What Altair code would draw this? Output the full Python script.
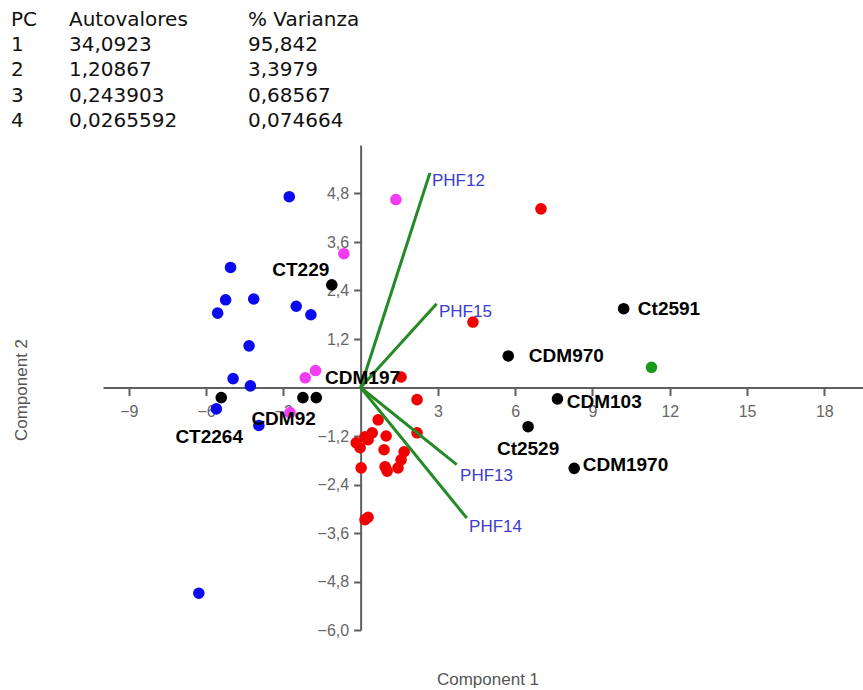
import altair as alt
import pandas as pd

# ---------------- data ----------------
table_headers = ["PC", "Autovalores", "% Varianza"]
pc = ["1", "2", "3", "4"]
autovalores = ["34,0923", "1,20867", "0,243903", "0,0265592"]
varianza = ["95,842", "3,3979", "0,68567", "0,074664"]

blue_x = [-2.77, -5.05, -5.24, -4.15, -5.55, -2.50, -1.93, -4.33, -4.95, -4.28, -5.60, -3.95, -6.28]
blue_y = [4.72, 2.97, 2.17, 2.19, 1.84, 2.01, 1.80, 1.03, 0.22, 0.04, -0.53, -0.94, -5.09]

magenta_x = [1.37, -0.65, -2.15, -1.75, -2.74]
magenta_y = [4.65, 3.31, 0.24, 0.42, -0.62]

red_x = [7.00, 4.36, 1.57, 2.19, 0.68, 2.19, 0.17, 0.45, -0.17, -0.02, 0.29, 0.99,
         0.91, 1.69, 1.57, 1.45, 0.95, 1.03, 0.02, 0.29, 0.17]
red_y = [4.42, 1.62, 0.26, -0.30, -0.80, -1.12, -1.22, -1.12, -1.37, -1.49, -1.29, -1.20,
         -1.54, -1.59, -1.79, -1.99, -1.96, -2.07, -1.99, -3.21, -3.27]

green_x = [11.29]
green_y = [0.50]

black_names = ["CT229", "CT2264", "CDM92", "CDM197", "Ct2591", "CDM970", "CDM103", "Ct2529", "CDM1970"]
black_x = [-1.12, -5.41, -2.24, -1.72, 10.21, 5.73, 7.64, 6.50, 8.29]
black_y = [2.54, -0.25, -0.25, -0.25, 1.95, 0.78, -0.28, -0.97, -2.00]
black_label_x = [-3.43, -7.19, -4.24, -1.38, 10.76, 6.53, 8.00, 5.29, 8.62]
black_label_y = [2.91, -1.22, -0.77, 0.24, 1.94, 0.78, -0.35, -1.52, -1.91]

vec_names = ["PHF12", "PHF15", "PHF13", "PHF14"]
vec_x = [2.69, 2.95, 3.73, 4.12]
vec_y = [5.31, 2.07, -1.91, -3.23]
vec_label_x = [2.77, 3.04, 3.86, 4.21]
vec_label_y = [5.12, 1.87, -2.18, -3.46]

x_ticks = [-9, -6, -3, 3, 6, 9, 12, 15, 18]
y_ticks = [-6.0, -4.8, -3.6, -2.4, -1.2, 1.2, 2.4, 3.6, 4.8]

groups = ["blue", "magenta", "red", "green", "black"]
group_colors = ["#0a0af0", "#f23cf2", "#f00000", "#1a9a1a", "#000000"]
group_sizes = [135, 135, 135, 135, 115]

# ---------------- layout ----------------
W, H = 760, 485
X_DOMAIN = [-10, 19.5]
Y_DOMAIN = [-6, 6]
PAD_L, PAD_T = 103, 145
PAD_R, PAD_B = 863 - PAD_L - W, 690 - PAD_T - H
x0_px = (0 - X_DOMAIN[0]) / (X_DOMAIN[1] - X_DOMAIN[0]) * W
y0_px = (Y_DOMAIN[1] - 0) / (Y_DOMAIN[1] - Y_DOMAIN[0]) * H

FONT = "Liberation Sans"
TABLE_FONT = "DejaVu Sans"
AXIS_COLOR = "#5f5f5f"

pts = pd.concat([
    pd.DataFrame({"x": blue_x, "y": blue_y, "group": "blue"}),
    pd.DataFrame({"x": magenta_x, "y": magenta_y, "group": "magenta"}),
    pd.DataFrame({"x": red_x, "y": red_y, "group": "red"}),
    pd.DataFrame({"x": green_x, "y": green_y, "group": "green"}),
    pd.DataFrame({"x": black_x, "y": black_y, "group": "black"}),
], ignore_index=True)

vec_df = pd.DataFrame({"name": vec_names, "vx": vec_x, "vy": vec_y,
                       "lx": vec_label_x, "ly": vec_label_y})
lab_df = pd.DataFrame({"name": black_names, "lx": black_label_x, "ly": black_label_y})

x_scale = alt.Scale(domain=X_DOMAIN, nice=False, zero=False)
y_scale = alt.Scale(domain=Y_DOMAIN, nice=False, zero=False)

x_axis = alt.Axis(
    title=None, values=x_ticks, format="d", grid=False,
    offset=-(H - y0_px), domainColor=AXIS_COLOR, domainWidth=2,
    tickColor=AXIS_COLOR, tickWidth=2, tickSize=8,
    labelColor="#666666", labelFontSize=16, labelFont=FONT, labelPadding=8,
    labelFlush=False, labelOverlap=False,
)
y_axis = alt.Axis(
    title=None, values=y_ticks, grid=False,
    labelExpr="replace(format(datum.value, '.1f'), '.', ',')",
    offset=-x0_px, domainColor=AXIS_COLOR, domainWidth=2,
    tickColor=AXIS_COLOR, tickWidth=2, tickSize=7,
    labelColor="#666666", labelFontSize=16, labelFont=FONT, labelPadding=5,
    labelFlush=False, labelOverlap=False,
)

points = alt.Chart(pts).mark_circle(opacity=1).encode(
    x=alt.X("x:Q", scale=x_scale, axis=x_axis),
    y=alt.Y("y:Q", scale=y_scale, axis=y_axis),
    color=alt.Color("group:N", scale=alt.Scale(domain=groups, range=group_colors), legend=None),
    size=alt.Size("group:N", scale=alt.Scale(domain=groups, range=group_sizes), legend=None),
)

vectors = alt.Chart(vec_df).mark_rule(color="#258a25", strokeWidth=3).encode(
    x="vx:Q", y="vy:Q", x2=alt.datum(0), y2=alt.datum(0)
)

vec_labels = alt.Chart(vec_df).mark_text(
    align="left", baseline="middle", font=FONT, fontSize=17, color="#3c3cd0"
).encode(x="lx:Q", y="ly:Q", text="name:N")

sample_labels = alt.Chart(lab_df).mark_text(
    align="left", baseline="middle", font=FONT, fontSize=19, fontWeight="bold", color="#000000"
).encode(x="lx:Q", y="ly:Q", text="name:N")

one = pd.DataFrame({"k": [0]})
table_cols = [
    ([table_headers[0]] + pc, 11),
    ([table_headers[1]] + autovalores, 69),
    ([table_headers[2]] + varianza, 248),
]
table_layers = [
    alt.Chart(one).mark_text(
        align="left", baseline="alphabetic", font=TABLE_FONT, fontSize=20, lineHeight=25.2,
        color="#111111", text=lines,
    ).encode(x=alt.value(px - PAD_L), y=alt.value(26 - PAD_T))
    for lines, px in table_cols
]

title_x = alt.Chart(one).mark_text(
    align="center", baseline="alphabetic", font=FONT, fontSize=17, color="#555555",
    text="Component 1",
).encode(x=alt.value(488 - PAD_L), y=alt.value(685 - PAD_T))

title_y = alt.Chart(one).mark_text(
    align="center", baseline="middle", font=FONT, fontSize=17, color="#555555",
    angle=270, text="Component 2",
).encode(x=alt.value(22 - PAD_L), y=alt.value(390 - PAD_T))

chart = alt.layer(
    points, vectors, vec_labels, sample_labels, title_x, title_y, *table_layers
).properties(
    width=W, height=H,
    background="white",
    autosize=alt.AutoSizeParams(type="none"),
    padding={"left": PAD_L, "top": PAD_T, "right": PAD_R, "bottom": PAD_B},
).configure_view(strokeWidth=0, stroke="transparent")

chart.save("out.html", embed_options={"renderer": "svg", "actions": False})
